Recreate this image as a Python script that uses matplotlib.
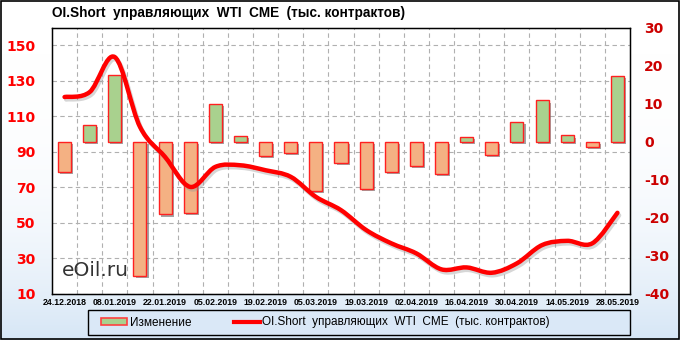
import numpy as np
import matplotlib
matplotlib.use("Agg")
import matplotlib.pyplot as plt
from matplotlib.path import Path
from matplotlib.patches import PathPatch, Rectangle, Patch
from matplotlib.lines import Line2D
import matplotlib.patheffects as pe

# data
dates = ["24.12.2018", "31.12.2018", "08.01.2019", "15.01.2019", "22.01.2019", "29.01.2019",
         "05.02.2019", "12.02.2019", "19.02.2019", "26.02.2019", "05.03.2019", "12.03.2019",
         "19.03.2019", "26.03.2019", "02.04.2019", "09.04.2019", "16.04.2019", "23.04.2019",
         "30.04.2019", "07.05.2019", "14.05.2019", "21.05.2019", "28.05.2019"]
change = [-8.1, 4.3, 17.4, -35.3, -19.2, -18.7, 10.0, 1.4, -3.9, -3.0, -13.0, -5.7,
          -12.6, -8.0, -6.5, -8.6, 1.1, -3.6, 5.1, 10.8, 1.6, -1.4, 17.2]
oi_short = [120.8, 123.6, 143.3, 104.0, 87.0, 70.1, 81.4, 82.3, 79.5, 75.8, 64.5, 57.0,
            45.8, 38.3, 32.6, 23.6, 24.7, 21.7, 27.0, 37.3, 39.7, 38.3, 55.5]
left_ticks = [10, 30, 50, 70, 90, 110, 130, 150]
right_ticks = [-40, -30, -20, -10, 0, 10, 20, 30]

title = "OI.Short  управляющих  WTI  CME  (тыс. контрактов)"
bar_label = "Изменение"
line_label = "OI.Short  управляющих  WTI  CME  (тыс. контрактов)"

fig = plt.figure(figsize=(6.8, 3.4), dpi=100)

# background gradient white -> light blue
bg = fig.add_axes([0, 0, 1, 1], zorder=-10)
grad = np.linspace(0, 1, 256) ** 3
bg.imshow(np.vstack([grad, grad]).T, aspect="auto", extent=[0, 1, 0, 1],
          cmap=matplotlib.colors.LinearSegmentedColormap.from_list("bgc", ["#ffffff", "#d6e6f6"]),
          origin="upper")
bg.set_axis_off()
fig.patches.append(Rectangle((0.001, 0.002), 0.997, 0.995, transform=fig.transFigure,
                             fill=False, edgecolor="black", linewidth=1.2))

x = np.arange(len(dates))

ax = fig.add_axes([52 / 680, 1 - 293.5 / 340, 578 / 680, 266 / 340])
ax.set_xlim(-0.5, len(dates) - 0.5)
ax.set_ylim(10, 160)
ax.set_facecolor("white")
ax.set_yticks(left_ticks)
ax.set_yticklabels([str(t) for t in left_ticks], color="#ff0000", fontweight="bold",
                   fontsize=10, family="DejaVu Sans")
ax.tick_params(axis="y", length=0, pad=12)
ax.set_xticks(x[::2])
ax.set_xticklabels(dates[::2], fontsize=6.3, fontweight="bold", family="Liberation Sans")
ax.tick_params(axis="x", length=0, pad=3)
ax.set_xticks(x[:-1] + 0.5, minor=True)
ax.tick_params(axis="x", which="minor", length=0)
ax.grid(True, which="major", axis="y", color="#b0b0b0", linestyle=(0, (4, 3)), linewidth=0.8)
ax.grid(True, which="minor", axis="x", color="#b0b0b0", linestyle=(0, (4, 3)), linewidth=0.8)
for s in ax.spines.values():
    s.set_color("black")
    s.set_linewidth(1.0)

# bars on right axis
ax2 = ax.twinx()
ax2.set_ylim(-40, 30)
ax2.set_yticks(right_ticks)
ax2.set_yticklabels([str(t) for t in right_ticks], color="#cc0000", fontweight="bold",
                    fontsize=10, family="DejaVu Sans")
ax2.tick_params(axis="y", length=0, pad=10)
colors = ["#a9d18e" if v >= 0 else "#f4b183" for v in change]
bars = ax2.bar(x, change, width=0.52, color=colors, edgecolor="#ff2020", linewidth=1.0)
for b in bars:
    b.set_path_effects([pe.SimplePatchShadow(offset=(1.5, -1.5), shadow_rgbFace="#666666", alpha=0.6),
                        pe.Normal()])

# smoothed line on left scale
ax3 = ax.twinx()
ax3.set_ylim(ax.get_ylim())
ax3.set_xlim(ax.get_xlim())
ax3.set_axis_off()
pts = np.column_stack([x, oi_short])
verts = [pts[0]]
codes = [Path.MOVETO]
for i in range(len(pts) - 1):
    p0 = pts[max(i - 1, 0)]
    p1 = pts[i]
    p2 = pts[i + 1]
    p3 = pts[min(i + 2, len(pts) - 1)]
    verts += [p1 + (p2 - p0) / 6, p2 - (p3 - p1) / 6, p2]
    codes += [Path.CURVE4] * 3
line = PathPatch(Path(verts, codes), fill=False, edgecolor="#ff0000", linewidth=3.2,
                 capstyle="round", joinstyle="round")
line.set_path_effects([pe.SimpleLineShadow(offset=(1.2, -1.8), shadow_color="#999999", alpha=0.4),
                       pe.Normal()])
ax3.add_patch(line)

# title and watermark
fig.text(52 / 680, 1 - 13 / 340, title, fontsize=9.8, fontweight="bold", va="center",
         ha="left", family="Liberation Sans")
ax.text(0.017, 0.085, "eOil.ru", transform=ax.transAxes, fontsize=14.5, color="#333333",
        ha="left", va="center", family="DejaVu Sans")

# legend
fig.patches.append(Rectangle((88 / 680, 1 - 335 / 340), 542 / 680, 25 / 340,
                             transform=fig.transFigure, facecolor="#dae8f7",
                             edgecolor="black", linewidth=1.0))
handles = [Patch(facecolor="#a9d18e", edgecolor="#ff4040", linewidth=1.2),
           Line2D([0], [0], color="#ff0000", linewidth=3)]
fig.legend(handles, [bar_label, line_label], loc="center left",
           bbox_to_anchor=(90 / 680, 1 - 322.5 / 340), ncol=2, frameon=False,
           handlelength=2.2, handleheight=0.5, handletextpad=0.25,
           columnspacing=3.6, prop={"family": "Liberation Sans", "size": 8.5})

fig.savefig("out.png", dpi=100)
